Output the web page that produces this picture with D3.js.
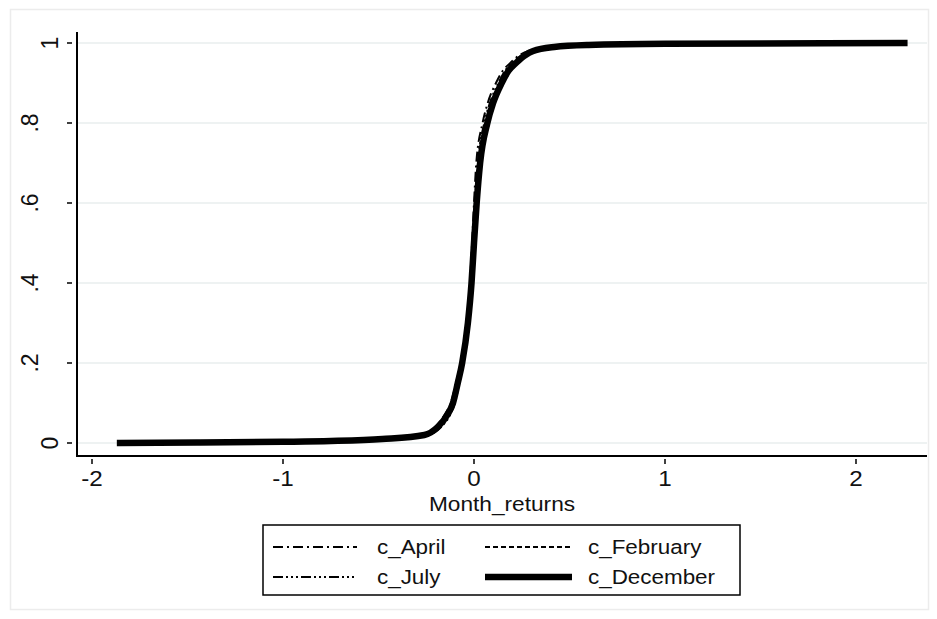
<!DOCTYPE html>
<html><head><meta charset="utf-8">
<script src="https://cdn.jsdelivr.net/npm/d3@7"></script>
<style>html,body{margin:0;padding:0;background:#fff;}svg{display:block;}</style>
</head><body>
<svg id="c" width="937" height="619"></svg>
<script>
// cumulative probability levels shared by all series
const probs = [0, 0.001, 0.003, 0.005, 0.01, 0.02, 0.04, 0.07, 0.1, 0.15, 0.2, 0.3, 0.4, 0.5, 0.6, 0.7, 0.8, 0.85, 0.9, 0.93, 0.95, 0.97, 0.98, 0.99, 0.995, 0.998, 1];
// Month_returns quantiles per series
const cApril    = [-1.80, -1.40, -0.98, -0.74, -0.47, -0.265, -0.2, -0.155, -0.122, -0.094, -0.07, -0.04, -0.021, -0.01, 0.0, 0.012, 0.045, 0.072, 0.115, 0.15, 0.19, 0.24, 0.285, 0.40, 0.57, 0.98, 2.20];
const cFebruary = [-1.75, -1.42, -1.02, -0.76, -0.49, -0.25, -0.185, -0.138, -0.108, -0.082, -0.06, -0.03, -0.011, 0.002, 0.016, 0.034, 0.072, 0.103, 0.15, 0.185, 0.225, 0.275, 0.315, 0.43, 0.61, 1.02, 2.10];
const cJuly     = [-1.82, -1.44, -1.01, -0.75, -0.48, -0.24, -0.172, -0.126, -0.1, -0.077, -0.057, -0.029, -0.014, -0.004, 0.005, 0.02, 0.054, 0.083, 0.128, 0.162, 0.2, 0.25, 0.295, 0.41, 0.58, 1.0, 2.25];
const cDecember = [-1.87, -1.45, -1.0, -0.75, -0.48, -0.26, -0.19, -0.14, -0.11, -0.085, -0.062, -0.032, -0.013, 0.0, 0.014, 0.032, 0.07, 0.1, 0.145, 0.18, 0.22, 0.27, 0.31, 0.42, 0.6, 1.0, 2.27];

const seriesNames = ["c_April", "c_February", "c_July", "c_December"];
const seriesValues = [cApril, cFebruary, cJuly, cDecember];
const xTicks = [-2, -1, 0, 1, 2];
const xTickLabels = ["-2", "-1", "0", "1", "2"];
const yTicks = [0, 0.2, 0.4, 0.6, 0.8, 1];
const yTickLabels = ["0", ".2", ".4", ".6", ".8", "1"];
const xTitle = "Month_returns";

const styles = {
  c_April:    {w: 2, dash: "10,4,2,4"},
  c_February: {w: 2, dash: "5,3"},
  c_July:     {w: 2, dash: "10,3,2,3,2,3,2,3"},
  c_December: {w: 6.5, dash: null}
};

const svg = d3.select("#c");
const font = "'Liberation Sans', Arial, Helvetica, sans-serif";

// outer frame
svg.append("rect").attr("x", 10.5).attr("y", 9.5).attr("width", 918).attr("height", 600)
  .attr("fill", "#fff").attr("stroke", "#ececec").attr("stroke-width", 1.5);

const x = d3.scaleLinear().domain([-2, 2]).range([92, 856]);
const y = d3.scaleLinear().domain([0, 1]).range([443, 43]);
const axL = 77, axR = 927, axT = 32, axB = 456;

// gridlines
svg.append("g").selectAll("line").data(yTicks).join("line")
  .attr("x1", axL + 1).attr("x2", axR)
  .attr("y1", d => y(d)).attr("y2", d => y(d))
  .attr("stroke", "#e8eeee").attr("stroke-width", 1.5);

// series lines
const line = d3.line().x(d => x(d[0])).y(d => y(d[1])).curve(d3.curveMonotoneX);
const order = [0, 1, 2, 3];
order.forEach(i => {
  const name = seriesNames[i];
  const pts = seriesValues[i].map((v, k) => [v, probs[k]]);
  const st = styles[name];
  const p = svg.append("path").datum(pts).attr("d", line)
    .attr("fill", "none").attr("stroke", "#000").attr("stroke-width", st.w)
    .attr("stroke-linejoin", "round");
  if (st.dash) p.attr("stroke-dasharray", st.dash);
});

// axes lines
svg.append("line").attr("x1", axL).attr("x2", axL).attr("y1", axT).attr("y2", axB + 1)
  .attr("stroke", "#000").attr("stroke-width", 2);
svg.append("line").attr("x1", axL).attr("x2", axR).attr("y1", axB).attr("y2", axB)
  .attr("stroke", "#000").attr("stroke-width", 2);

// y ticks
const yg = svg.append("g");
yg.selectAll("line").data(yTicks).join("line")
  .attr("x1", 67).attr("x2", 72).attr("y1", d => y(d)).attr("y2", d => y(d))
  .attr("stroke", "#000").attr("stroke-width", 1.5);
yg.selectAll("text").data(yTicks).join("text")
  .attr("transform", (d, i) => {
    const lab = yTickLabels[i];
    const bx = lab.startsWith(".") ? 38 : 58;
    return `translate(${bx},${y(d)}) rotate(-90)`;
  })
  .attr("text-anchor", "middle")
  .attr("font-family", font).attr("font-size", 23).attr("fill", "#111")
  .text((d, i) => yTickLabels[i]);

// x ticks
const xg = svg.append("g");
xg.selectAll("line").data(xTicks).join("line")
  .attr("x1", d => x(d)).attr("x2", d => x(d)).attr("y1", 459).attr("y2", 464)
  .attr("stroke", "#000").attr("stroke-width", 1.5);
xg.selectAll("text").data(xTicks).join("text")
  .attr("transform", d => `translate(${x(d)},486) scale(1.1,1)`)
  .attr("text-anchor", "middle")
  .attr("font-family", font).attr("font-size", 22).attr("fill", "#111")
  .text((d, i) => xTickLabels[i]);

svg.append("text").attr("transform", `translate(${(axL + axR) / 2},511) scale(1.08,1)`)
  .attr("text-anchor", "middle")
  .attr("font-family", font).attr("font-size", 21).attr("fill", "#111")
  .text(xTitle);

// legend
const lg = svg.append("g");
lg.append("rect").attr("x", 263).attr("y", 525).attr("width", 477).attr("height", 70)
  .attr("fill", "#fff").attr("stroke", "#000").attr("stroke-width", 1.5);
const cols = [{x1: 273, x2: 357, tx: 377}, {x1: 485, x2: 572, tx: 588}];
const rows = [547, 577];
seriesNames.forEach((name, i) => {
  const c = cols[i % 2], r = rows[Math.floor(i / 2)];
  const st = styles[name];
  const l = lg.append("line").attr("x1", c.x1).attr("x2", c.x2).attr("y1", r).attr("y2", r)
    .attr("stroke", "#000").attr("stroke-width", st.w);
  if (st.dash) l.attr("stroke-dasharray", st.dash);
  lg.append("text").attr("transform", `translate(${c.tx},${r + 7}) scale(1.15,1)`)
    .attr("font-family", font).attr("font-size", 19.5).attr("fill", "#111")
    .text(name);
});
</script>
</body></html>
